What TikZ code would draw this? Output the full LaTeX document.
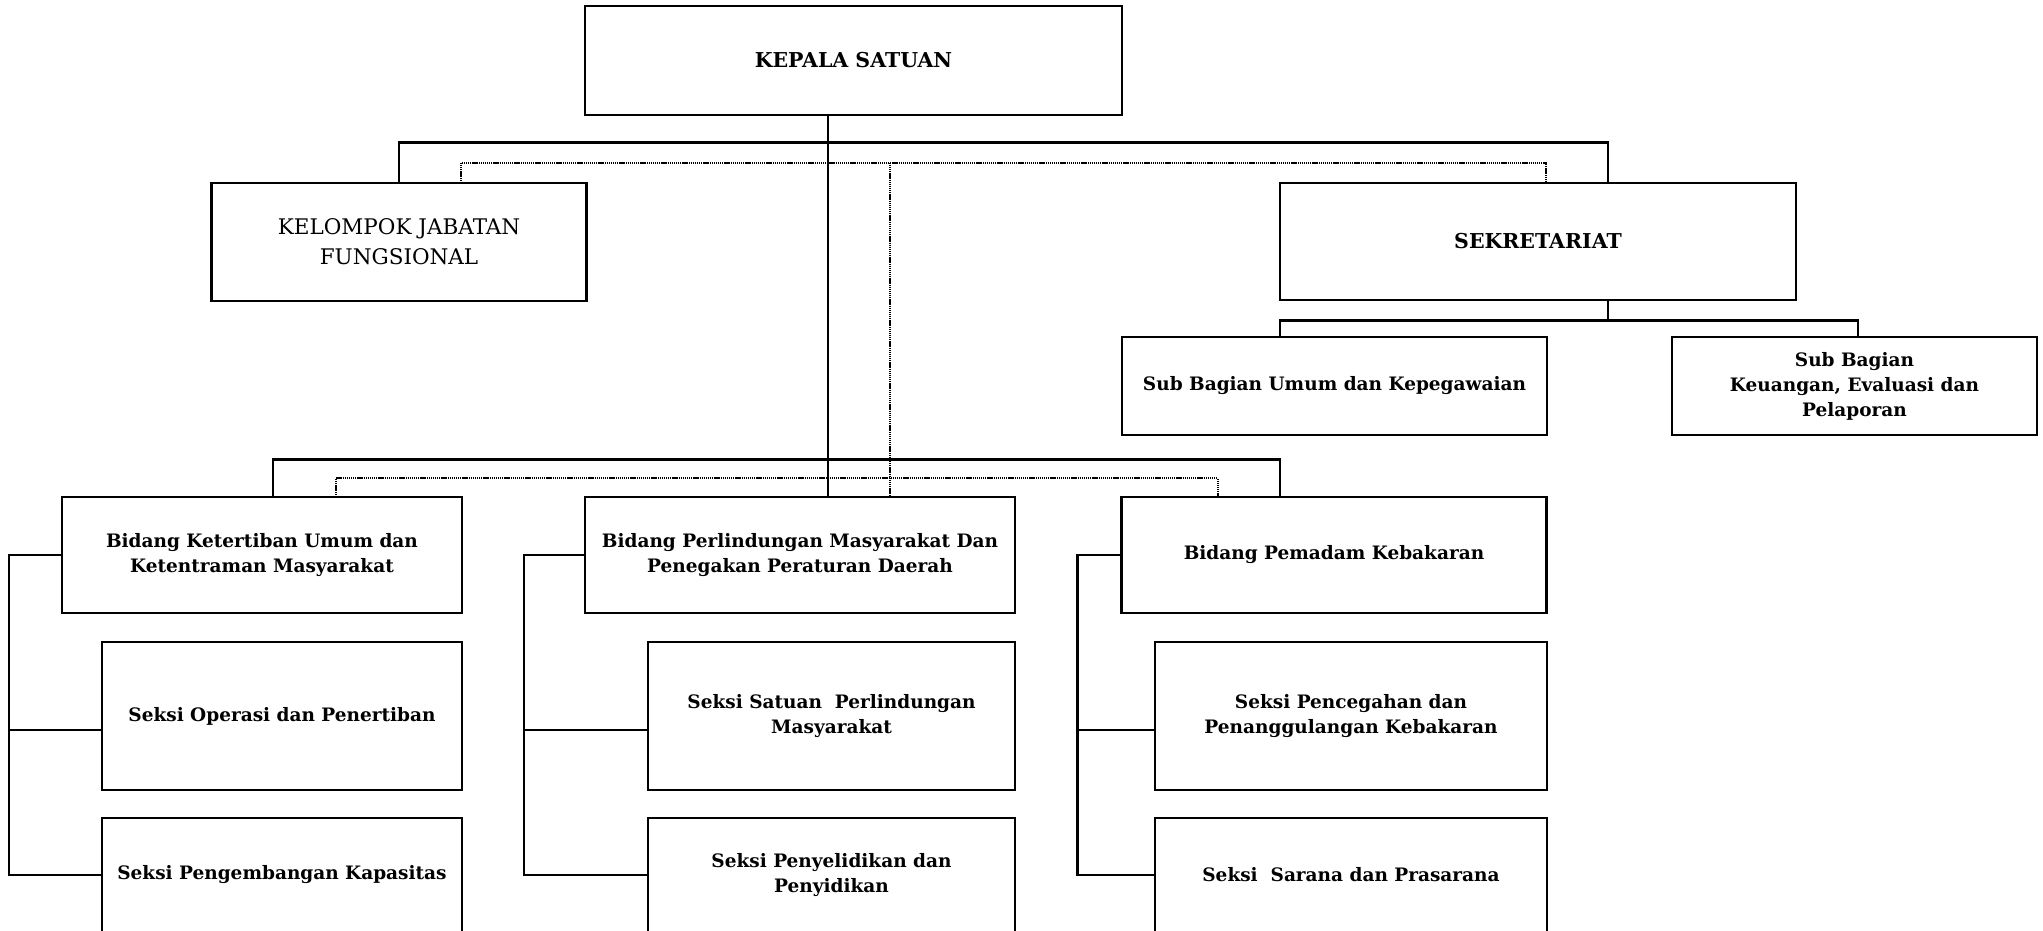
\documentclass[tikz,border=0pt]{standalone}
\usepackage{fontspec}
\setmainfont{DejaVu Serif}
\begin{document}
\begin{tikzpicture}[x=1pt,y=-1pt,
  box/.style={draw,line width=2.7pt,inner sep=0pt,outer sep=0pt,align=center,
    font=\fontsize{18.5}{25}\selectfont\bfseries},
  caps/.style={font=\fontsize{20.5}{26}\selectfont\bfseries},
  plain/.style={font=\fontsize{21.5}{30}\selectfont},
  conn/.style={line width=2.5pt},
  dot/.style={line width=2.2pt,dash pattern=on 1.3pt off 0.8pt}]
\useasboundingbox (0,0) rectangle (2043,930);
% boxes
\node[box,caps,minimum width=537pt,minimum height=109pt] (kepala) at (853.5,60.5) {KEPALA SATUAN};
\node[box,plain,minimum width=375pt,minimum height=118pt] (kjf) at (399,242) {KELOMPOK JABATAN\\FUNGSIONAL};
\node[box,caps,minimum width=516pt,minimum height=117pt] (sek) at (1538,241.5) {SEKRETARIAT};
\node[box,minimum width=425pt,minimum height=98pt] (sbu) at (1334.5,386) {Sub Bagian Umum dan Kepegawaian};
\node[box,minimum width=365pt,minimum height=98pt] (sbk) at (1854.5,386) {Sub Bagian\\Keuangan, Evaluasi dan\\Pelaporan};
% column 1
\node[box,minimum width=400pt,minimum height=116pt] (bk) at (262,555) {Bidang Ketertiban Umum dan\\Ketentraman Masyarakat};
\node[box,minimum width=360pt,minimum height=148pt] (so) at (282,716) {Seksi Operasi dan Penertiban};
\node[box,minimum width=360pt,minimum height=114pt] (spk) at (282,875) {Seksi Pengembangan Kapasitas};
% column 2
\node[box,minimum width=430pt,minimum height=116pt] (bp) at (800,555) {Bidang Perlindungan Masyarakat Dan\\Penegakan Peraturan Daerah};
\node[box,minimum width=367pt,minimum height=148pt] (ssp) at (831.5,716) {Seksi Satuan\ \ Perlindungan\\Masyarakat};
\node[box,minimum width=367pt,minimum height=114pt] (spp) at (831.5,875) {Seksi Penyelidikan dan\\Penyidikan};
% column 3
\node[box,minimum width=425pt,minimum height=116pt] (bpk) at (1334,555) {Bidang Pemadam Kebakaran};
\node[box,minimum width=392pt,minimum height=148pt] (spc) at (1351,716) {Seksi Pencegahan dan\\Penanggulangan Kebakaran};
\node[box,minimum width=392pt,minimum height=114pt] (ssr) at (1351,875) {Seksi\ \ Sarana dan Prasarana};
% coordinates
\coordinate (t) at (828,0);
\coordinate (a1) at (399,142.5); \coordinate (a2) at (1608,142.5);
\coordinate (d1) at (461,162.7); \coordinate (d2) at (1546,162.7); \coordinate (d3) at (890,162.7);
\coordinate (s0) at (1608,320.7); \coordinate (s1) at (1280,320.7); \coordinate (s2) at (1858,320.7);
\coordinate (b1) at (273,459.3); \coordinate (b2) at (1280,459.3);
\coordinate (e1) at (336,478.3); \coordinate (e2) at (1218,478.3);
\coordinate (c1) at (9,0); \coordinate (c2) at (524,0); \coordinate (c3) at (1077.3,0);
\coordinate (m1) at (9,730); \coordinate (m2) at (524,730); \coordinate (m3) at (1077.3,730);
% connectors
\draw[conn] (t |- kepala.south) -- (t |- bp.north);
\draw[conn] (a1 |- kjf.north) -- (a1) -- (a2) -- (a2 |- sek.north);
\draw[dot] (d1 |- kjf.north) -- (d1) -- (d2) -- (d2 |- sek.north);
\draw[dot] (d3) -- (d3 |- bp.north);
\draw[conn] (s0 |- sek.south) -- (s0);
\draw[conn] (s1 |- sbu.north) -- (s1) -- (s2) -- (s2 |- sbk.north);
\draw[conn] (b1 |- bk.north) -- (b1) -- (b2) -- (b2 |- bpk.north);
\draw[dot] (e1 |- bk.north) -- (e1) -- (e2) -- (e2 |- bpk.north);
\draw[conn] (bk.west) -| (c1 |- spk.west) -- (spk.west);
\draw[conn] (m1) -- (m1 -| so.west);
\draw[conn] (bp.west) -| (c2 |- spp.west) -- (spp.west);
\draw[conn] (m2) -- (m2 -| ssp.west);
\draw[conn] (bpk.west) -| (c3 |- ssr.west) -- (ssr.west);
\draw[conn] (m3) -- (m3 -| spc.west);
\end{tikzpicture}
\end{document}
